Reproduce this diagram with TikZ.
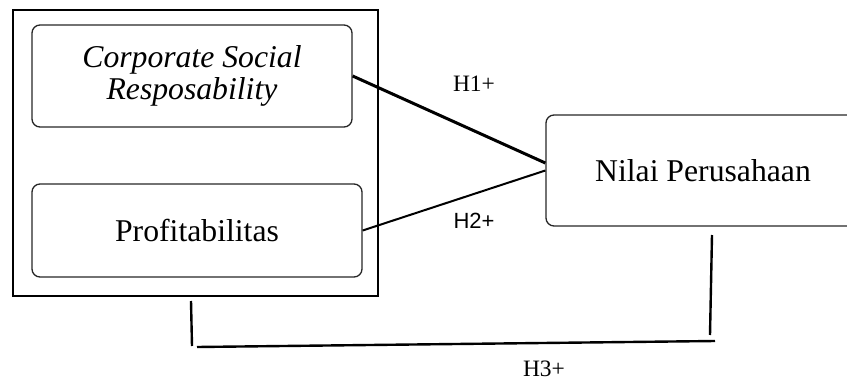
\documentclass[tikz,border=0pt]{standalone}
\usepackage{fontspec}
\setmainfont{Liberation Serif}
\newfontfamily\labsans{Liberation Sans}
\begin{document}
\begin{tikzpicture}[x=1pt,y=-1pt,
  rbox/.style={draw=black!85, line width=1.3pt, rounded corners=8pt, inner sep=0pt, align=center, font=\fontsize{31.7}{32}\selectfont},
  lab/.style={font=\fontsize{23.5}{24}\selectfont, inner sep=0pt},
  thickconn/.style={line width=3pt},
  conn/.style={line width=2pt},
  botconn/.style={line width=2.4pt}]
\useasboundingbox (0,0) rectangle (847,383);
\clip (0,0) rectangle (847,383);
\node[draw, line width=2pt, minimum width=365pt, minimum height=286pt, inner sep=0pt] (outer) at (195.5,153) {};
\node[rbox, minimum width=320pt, minimum height=102pt] (csr) at (192,76) {\textit{Corporate Social}\\\textit{Resposability}};
\node[rbox, minimum width=330pt, minimum height=93pt] (prof) at (197,230.5) {Profitabilitas};
\node[rbox, minimum width=314pt, minimum height=111pt] (nilai) at (703,170.5) {Nilai Perusahaan};
\draw[thickconn] (csr.east) -- ([yshift=7.5pt]nilai.west);
\draw[conn] (prof.east) -- (nilai.west);
\node[lab] (h1) at (474,84) {H1+};
\node[lab, font=\labsans\fontsize{22}{22}\selectfont] (h2) at (474,221) {H2+};
\node[lab] (h3) at (544,369) {H3+};
\coordinate (b1) at (191,301);
\coordinate (b2) at (192,346);
\coordinate (b3) at (197,347);
\coordinate (b4) at (715,341);
\coordinate (b5) at (712,235);
\coordinate (b6) at (710,335);
\draw[botconn] (b1) -- (b2);
\draw[botconn] (b3) -- (b4);
\draw[botconn] (b5) -- (b6);
\end{tikzpicture}
\end{document}
